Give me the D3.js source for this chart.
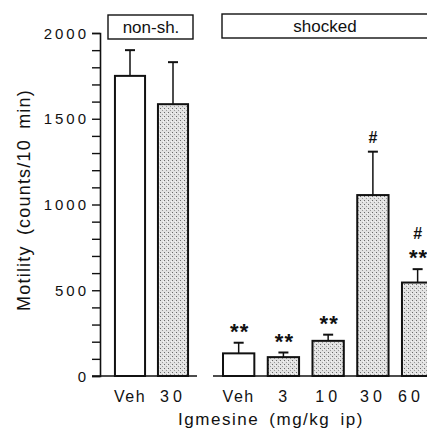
<!DOCTYPE html>
<html>
<head>
<meta charset="utf-8">
<script src="https://cdn.jsdelivr.net/npm/d3@7"></script>
<style>
  body { margin: 0; background: #fff; }
  text { font-family: "Liberation Sans", Arial, sans-serif; fill: #111; }
</style>
</head>
<body>
<div id="chart"></div>
<script>
// data
const nonShockedCats = ["Veh", "30"];
const nonShockedMean = [1750, 1585];
const nonShockedSem  = [150, 245];
const nonShockedDrug = [false, true];

const shockedCats = ["Veh", "3", "10", "30", "60"];
const shockedMean = [132, 110, 205, 1055, 545];
const shockedSem  = [62, 27, 36, 253, 78];
const shockedDrug = [false, true, true, true, true];
const shockedMarks = [["**"], ["**"], ["**"], ["#"], ["**", "#"]];

const yTicks = [0, 500, 1000, 1500, 2000];

const W = 427, H = 436;
const svg = d3.select("#chart").append("svg")
  .attr("width", W)
  .attr("height", H);

// stipple pattern for drug bars
const defs = svg.append("defs");
const pat = defs.append("pattern")
  .attr("id", "stip")
  .attr("patternUnits", "userSpaceOnUse")
  .attr("width", 4).attr("height", 4);
pat.append("rect").attr("width", 4).attr("height", 4).attr("fill", "#e2e2e2");
pat.append("rect").attr("x", 0).attr("y", 0).attr("width", 1).attr("height", 1).attr("fill", "#6a6a6a");
pat.append("rect").attr("x", 2).attr("y", 2).attr("width", 1).attr("height", 1).attr("fill", "#999");
pat.append("rect").attr("x", 3).attr("y", 1).attr("width", 1).attr("height", 1).attr("fill", "#f6f6f6");

// scales
const y = d3.scaleLinear().domain([0, 2000]).range([376, 33]);
const xL = d3.scaleBand().domain(nonShockedCats).range([108.5, 194.5]).paddingInner(0.3).paddingOuter(0.15);
const xR = d3.scaleBand().domain(shockedCats).range([216.3, 440]).paddingInner(0.3).paddingOuter(0.15);

// y axis
const yAxis = svg.append("g")
  .attr("transform", "translate(100,0)")
  .call(d3.axisLeft(y).tickValues(d3.range(0, 2001, 100)).tickSize(8).tickFormat(""));
yAxis.select(".domain").attr("stroke", "#111").attr("stroke-width", 1.6);
yAxis.selectAll(".tick line").attr("stroke", "#111").attr("stroke-width", 1.4);
yAxis.selectAll(".tick text").remove();

svg.append("g").selectAll("text")
  .data(yTicks)
  .join("text")
    .attr("x", 89)
    .attr("y", d => y(d) + 5.5)
    .attr("text-anchor", "end")
    .style("font-size", "15px")
    .style("letter-spacing", "3px")
    .text(d => d);

// baselines
svg.append("line").attr("x1", 92).attr("x2", 197).attr("y1", y(0)).attr("y2", y(0))
  .attr("stroke", "#111").attr("stroke-width", 1.6);
svg.append("line").attr("x1", 213).attr("x2", W).attr("y1", y(0)).attr("y2", y(0))
  .attr("stroke", "#111").attr("stroke-width", 1.6);

function drawPanel(x, cats, mean, sem, drug, marks) {
  const rows = cats.map((c, i) => ({ c, m: mean[i], s: sem[i], drug: drug[i], marks: marks ? marks[i] : [] }));
  const g = svg.append("g");
  const bw = x.bandwidth();

  g.selectAll("line.err")
    .data(rows)
    .join("line")
      .attr("class", "err")
      .attr("x1", d => x(d.c) + bw / 2).attr("x2", d => x(d.c) + bw / 2)
      .attr("y1", d => y(d.m)).attr("y2", d => y(d.m + d.s))
      .attr("stroke", "#111").attr("stroke-width", 1.5);
  g.selectAll("line.cap")
    .data(rows)
    .join("line")
      .attr("class", "cap")
      .attr("x1", d => x(d.c) + bw / 2 - 5).attr("x2", d => x(d.c) + bw / 2 + 5)
      .attr("y1", d => y(d.m + d.s)).attr("y2", d => y(d.m + d.s))
      .attr("stroke", "#111").attr("stroke-width", 2);

  g.selectAll("rect.bar")
    .data(rows)
    .join("rect")
      .attr("class", "bar")
      .attr("x", d => x(d.c))
      .attr("y", d => y(d.m))
      .attr("width", bw)
      .attr("height", d => y(0) - y(d.m))
      .attr("fill", d => d.drug ? "url(#stip)" : "#fff")
      .attr("stroke", "#111")
      .attr("stroke-width", 2);

  // significance marks
  rows.forEach(d => {
    d.marks.forEach((mk, k) => {
      g.append("text")
        .attr("x", x(d.c) + bw / 2 + (mk === "**" ? 1 : 0))
        .attr("y", y(d.m + d.s) - 9 - k * 21 + (mk === "**" ? 5 : 0))
        .attr("text-anchor", "middle")
        .style("font-size", mk === "**" ? "22px" : "16px")
        .style("letter-spacing", mk === "**" ? "1px" : "0px")
        .style("font-weight", "bold")
        .text(mk);
    });
  });

  // category labels
  g.selectAll("text.cat")
    .data(rows)
    .join("text")
      .attr("class", "cat")
      .attr("x", (d, i) => Math.min(x(d.c) + bw / 2, 411))
      .attr("y", 402)
      .attr("text-anchor", "middle")
      .style("font-size", "16px")
      .style("letter-spacing", d => d.c.length > 1 && d.c !== "Veh" ? "4px" : "1.5px")
      .text(d => d.c);
}

drawPanel(xL, nonShockedCats, nonShockedMean, nonShockedSem, nonShockedDrug, null);
drawPanel(xR, shockedCats, shockedMean, shockedSem, shockedDrug, shockedMarks);

// group boxes
svg.append("rect").attr("x", 108).attr("y", 15).attr("width", 85).attr("height", 24)
  .attr("fill", "#fff").attr("stroke", "#111").attr("stroke-width", 1.4);
svg.append("text").attr("x", 151).attr("y", 33).attr("text-anchor", "middle")
  .style("font-size", "17px").text("non-sh.");
svg.append("rect").attr("x", 222).attr("y", 14).attr("width", 230).attr("height", 24)
  .attr("fill", "#fff").attr("stroke", "#111").attr("stroke-width", 1.4);
svg.append("text").attr("x", 325).attr("y", 32).attr("text-anchor", "middle")
  .style("font-size", "17px").text("shocked");

// axis titles
svg.append("text")
  .attr("transform", "translate(30,200) rotate(-90)")
  .attr("text-anchor", "middle")
  .style("font-size", "18px")
  .style("letter-spacing", "1.2px")
  .style("word-spacing", "4px")
  .text("Motility (counts/10 min)");

svg.append("text")
  .attr("x", 271)
  .attr("y", 425)
  .attr("text-anchor", "middle")
  .style("font-size", "17px")
  .style("letter-spacing", "1.5px")
  .style("word-spacing", "4px")
  .text("Igmesine (mg/kg ip)");
</script>
</body>
</html>
